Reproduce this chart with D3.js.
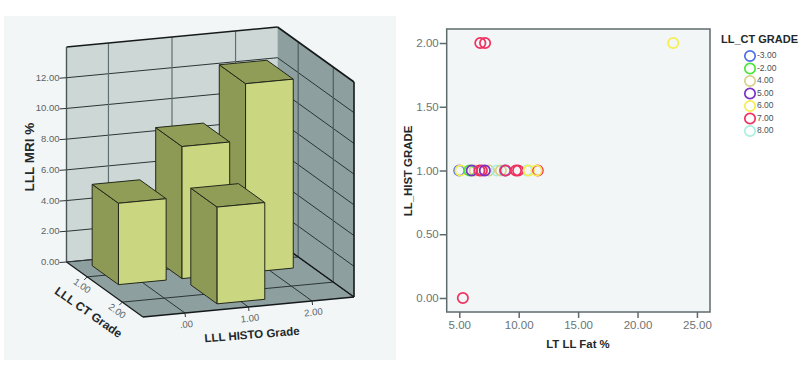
<!DOCTYPE html>
<html>
<head>
<meta charset="utf-8">
<script src="https://cdn.jsdelivr.net/npm/d3@7"></script>
<style>
  html, body { margin: 0; padding: 0; background: #fff; }
  svg { display: block; font-family: "Liberation Sans", Arial, sans-serif; }
</style>
</head>
<body>
<div class="chart"></div>
<script>
// left chart: LLL MRI % by histo grade and CT grade
const mriTicks = [0, 2, 4, 6, 8, 10, 12];
const histoTicks = [0, 1, 2];
const ctTicks = [1, 2];
const barHisto = [2, 1, 0, 1];
const barCt = [1, 1, 1, 2];
const barMri = [12.3, 8.6, 5.3, 6.3];

// right chart: fat % against histo grade, coloured by CT grade
const fatPct = [5.0, 5.1, 6.3, 7.5, 8.15, 8.5, 10.7, 5.85, 6.05, 6.7, 6.9, 7.15, 8.85, 8.9, 9.77, 9.95, 10.85, 11.6, 11.5, 6.77, 7.17, 23.0, 5.3];
const histGrade = [1, 1, 1, 1, 1, 1, 1, 1, 1, 1, 1, 1, 1, 1, 1, 1, 1, 1, 1, 2, 2, 2, 0];
const fatCt = [-3, 6, 4, 4, 8, 4, 8, -2, 5, 7, 7, 5, -3, 7, 7, 7, 6, 7, 6, 7, 7, 6, 7];
const legendGrades = [-3, -2, 4, 5, 6, 7, 8];
const legendColors = ["#4f70ea", "#4ce63c", "#d9d18c", "#7a30c8", "#f6ee50", "#f0305f", "#aaf0de"];
const scatterYTicks = [0, 0.5, 1, 1.5, 2];
const scatterXTicks = [5, 10, 15, 20, 25];

const svg = d3.select(".chart").append("svg").attr("width", 806).attr("height", 379);
const fmt = v => d3.format(".2f")(v).replace("\u2212", "-");

// ---------- left panel ----------
svg.append("rect").attr("x", 4).attr("y", 16).attr("width", 392).attr("height", 344).attr("fill", "#f3f6f6");

// oblique projection, each scale gives a screen offset along one edge of the box
const origin = [66.5, 262];
const histoEdge = d3.scaleLinear().domain([-0.66, 2.66]).range([[0, 0], [211, -20]]);
const ctEdge = d3.scaleLinear().domain([0.41, 2.59]).range([[0, 0], [76.5, 55]]);
const mriScale = d3.scaleLinear().domain([0, 14]).range([0, -215]);
const project = (h, c, v) => {
  const a = histoEdge(h), b = ctEdge(c);
  return [origin[0] + a[0] + b[0], origin[1] + a[1] + b[1] + mriScale(v)];
};
const [hMin, hMax] = histoEdge.domain();
const [cMin, cMax] = ctEdge.domain();
const vMax = mriScale.domain()[1];

const left = svg.append("g");
const path = d3.line();
const face = (pts, fill) => left.append("path").attr("d", path(pts) + "Z").attr("fill", fill)
  .attr("stroke", "#23281a").attr("stroke-width", 1).attr("stroke-linejoin", "round");
const seg = (a, b, color, w) => left.append("line")
  .attr("x1", a[0]).attr("y1", a[1]).attr("x2", b[0]).attr("y2", b[1])
  .attr("stroke", color).attr("stroke-width", w);

// walls and floor
const wall = (pts, fill) => left.append("path").attr("d", path(pts) + "Z").attr("fill", fill);
wall([project(hMin, cMin, 0), project(hMax, cMin, 0), project(hMax, cMin, vMax), project(hMin, cMin, vMax)], "#cdd8d6");
wall([project(hMax, cMin, 0), project(hMax, cMax, 0), project(hMax, cMax, vMax), project(hMax, cMin, vMax)], "#8d9f9f");
wall([project(hMin, cMin, 0), project(hMax, cMin, 0), project(hMax, cMax, 0), project(hMin, cMax, 0)], "#8d9f9f");

// grid lines
mriTicks.forEach(v => {
  seg(project(hMin, cMin, v), project(hMax, cMin, v), "#2c3436", 1);
  seg(project(hMax, cMin, v), project(hMax, cMax, v), "#2c3436", 1);
});
histoTicks.forEach(h => {
  seg(project(h, cMin, 0), project(h, cMin, vMax), "#5f6f72", 1.2);
  seg(project(h, cMin, 0), project(h, cMax, 0), "#2c3436", 1);
});
ctTicks.forEach(c => {
  seg(project(hMax, c, 0), project(hMax, c, vMax), "#4f5e60", 1.2);
  seg(project(hMin, c, 0), project(hMax, c, 0), "#2c3436", 1);
});

// box edges
seg(project(hMin, cMin, vMax), project(hMax, cMin, vMax), "#15191a", 1.6);
seg(project(hMax, cMin, vMax), project(hMax, cMax, vMax), "#15191a", 1.6);
seg(project(hMax, cMax, vMax), project(hMax, cMax, 0), "#15191a", 1.6);
seg(project(hMin, cMin, vMax), project(hMin, cMin, 0), "#4a5557", 1.4);
seg(project(hMin, cMax, 0), project(hMax, cMax, 0), "#15191a", 1.6);
seg(project(hMin, cMin, 0), project(hMin, cMax, 0), "#15191a", 1.2);
seg(project(hMax, cMin, 0), project(hMax, cMax, 0), "#15191a", 1.4);
seg(project(hMin, cMin, 0), project(hMax, cMin, 0), "#2c3436", 1);

// bars, painted from the back and from the right
const halfBar = 0.375;
const bars = barHisto.map((h, i) => ({ h, c: barCt[i], v: barMri[i] }))
  .sort((a, b) => a.c - b.c || b.h - a.h);
bars.forEach(d => {
  const x0 = d.h - halfBar, x1 = d.h + halfBar, z0 = d.c - halfBar, z1 = d.c + halfBar;
  face([project(x0, z0, 0), project(x0, z1, 0), project(x0, z1, d.v), project(x0, z0, d.v)], "#8d9a55");
  face([project(x0, z0, d.v), project(x1, z0, d.v), project(x1, z1, d.v), project(x0, z1, d.v)], "#8f9d56");
  face([project(x0, z1, 0), project(x1, z1, 0), project(x1, z1, d.v), project(x0, z1, d.v)], "#cbd680");
});

// tick marks and labels
const tickText = (x, y, str, rot, anchor) => left.append("text")
  .attr("transform", `translate(${x},${y}) rotate(${rot})`)
  .attr("text-anchor", anchor).attr("dominant-baseline", "middle")
  .attr("font-size", 9.5).attr("fill", "#5a6466").text(str);

mriTicks.forEach(v => {
  const p = project(hMin, cMin, v);
  seg([p[0] - 7, p[1] + 0.5], p, "#2c3436", 1);
  tickText(p[0] - 7, p[1] + 0.5, fmt(v), 0, "end");
});
histoTicks.forEach(h => {
  const p = project(h, cMax, 0);
  seg(p, [p[0] + 0.5, p[1] + 4], "#2c3436", 1);
  tickText(p[0] + 1.5, p[1] + 12, h === 0 ? ".00" : fmt(h), -6, "middle");
});
ctTicks.forEach(c => {
  const p = project(hMin, c, 0);
  seg(p, [p[0] - 3, p[1] + 3], "#2c3436", 1);
  tickText(p[0] - 5.5, p[1] + 9.5, fmt(c), 35, "middle");
});

// axis titles
const title = (x, y, str, rot, size) => svg.append("text")
  .attr("transform", `translate(${x},${y}) rotate(${rot})`)
  .attr("text-anchor", "middle").attr("dominant-baseline", "middle")
  .attr("font-size", size).attr("font-weight", "bold").attr("fill", "#23282a").text(str);
title(30, 157, "LLL MRI %", -90, 13.5);
title(88, 313, "LLL CT Grade", 35, 12);
title(252, 335.5, "LLL HISTO Grade", -4.5, 11.5);

// ---------- right panel ----------
const x = d3.scaleLinear().domain([3.94, 26.1]).range([446.7, 710]);
const y = d3.scaleLinear().domain([-0.11, 2.11]).range([312, 29]);
const color = d3.scaleOrdinal().domain(legendGrades).range(legendColors);

svg.append("rect").attr("x", x.range()[0]).attr("y", y.range()[1])
  .attr("width", x.range()[1] - x.range()[0]).attr("height", y.range()[0] - y.range()[1])
  .attr("fill", "#f3f6f6").attr("stroke", "#5f6a6c").attr("stroke-width", 1.5);

const styleAxis = g => {
  g.select(".domain").remove();
  g.selectAll(".tick line").attr("stroke", "#5f6a6c").attr("stroke-width", 1.5);
  g.selectAll(".tick text").attr("fill", "#6a7476").attr("font-size", 11.5)
    .attr("font-family", "\"Liberation Sans\", Arial, sans-serif");
};
svg.append("g").attr("transform", `translate(0,${y.range()[0]})`)
  .call(d3.axisBottom(x).tickValues(scatterXTicks).tickFormat(fmt).tickSize(6).tickPadding(3))
  .call(styleAxis);
svg.append("g").attr("transform", `translate(${x.range()[0]},0)`)
  .call(d3.axisLeft(y).tickValues(scatterYTicks).tickFormat(fmt).tickSize(7).tickPadding(1))
  .call(styleAxis);

svg.append("g").selectAll("circle")
  .data(fatPct.map((f, i) => ({ f, g: histGrade[i], c: fatCt[i] })))
  .join("circle")
  .attr("cx", d => x(d.f)).attr("cy", d => y(d.g)).attr("r", 5.2)
  .attr("fill", "none").attr("stroke", d => color(d.c)).attr("stroke-width", 1.7);

title(578, 345, "LT LL Fat %", 0, 11.4);
title(408.5, 171, "LL_HIST GRADE", -90, 11.4);

// legend
svg.append("text").attr("x", 721).attr("y", 40).attr("dominant-baseline", "middle")
  .attr("font-size", 11).attr("font-weight", "bold").attr("fill", "#23282a").text("LL_CT GRADE");
const legendY = d3.scalePoint().domain(legendGrades).range([56, 131]);
const legend = svg.append("g").selectAll("g").data(legendGrades).join("g")
  .attr("transform", d => `translate(750,${legendY(d)})`);
legend.append("circle").attr("r", 5.2).attr("fill", "none")
  .attr("stroke", d => color(d)).attr("stroke-width", 1.7);
legend.append("text").attr("x", 7).attr("dominant-baseline", "middle")
  .attr("font-size", 8.5).attr("fill", "#4a5052").text(d => fmt(d));
</script>
</body>
</html>
